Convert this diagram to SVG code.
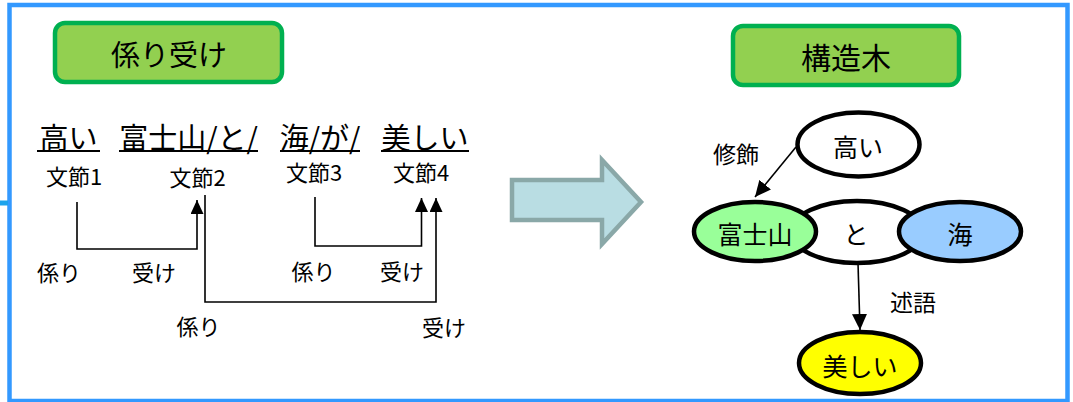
<svg xmlns="http://www.w3.org/2000/svg" width="1073" height="402" viewBox="0 0 1073 402">
<style>
text{font-family:"Noto Sans CJK JP","Noto Sans",sans-serif;fill:#000;dominant-baseline:central;text-anchor:middle}
.title{fill:#92D050;stroke:#00B050;stroke-width:4.5}
.word{font-size:29px}
.seg{font-size:22px}
.lbl{font-size:22px}
.node{stroke:#000;stroke-width:4.5}
.ntx{font-size:25px}
.conn{fill:none;stroke:#000;stroke-width:1.6}
.ul{stroke:#000;stroke-width:2}
</style>
<defs>
<marker id="ah" markerUnits="userSpaceOnUse" markerWidth="14" markerHeight="13" refX="14" refY="6.5" orient="auto">
<path d="M0,0 L14,6.5 L0,13 z" fill="#000"/>
</marker>
<marker id="ah2" markerUnits="userSpaceOnUse" markerWidth="16" markerHeight="15" refX="16" refY="7.5" orient="auto">
<path d="M0,0 L16,7.5 L0,15 z" fill="#000"/>
</marker>
</defs>
<rect width="1073" height="402" fill="#fff"/>
<rect x="9.5" y="5" width="1058" height="396" fill="none" stroke="#3399FF" stroke-width="4.5"/>
<line x1="0" y1="203" x2="8" y2="203" stroke="#1CA3EC" stroke-width="5"/>

<g id="title-left">
<rect class="title" x="55" y="23" width="227" height="59" rx="10"/>
<text x="169" y="53" style="font-size:29px">係り受け</text>
</g>
<g id="title-right">
<rect class="title" x="733" y="26" width="226" height="59" rx="10"/>
<text x="846" y="56" style="font-size:30px">構造木</text>
</g>

<g id="w1"><text class="word" x="68.5" y="136">高い</text><line class="ul" x1="37" y1="151" x2="100" y2="151"/><text class="seg" x="74" y="174.5">文節1</text></g>
<g id="w2"><text class="word" x="188.5" y="136">富士山/と/</text><line class="ul" x1="119" y1="151" x2="258" y2="151"/><text class="seg" x="197.5" y="175.5">文節2</text></g>
<g id="w3"><text class="word" x="320" y="136">海/が/</text><line class="ul" x1="280" y1="151" x2="360" y2="151"/><text class="seg" x="314" y="171">文節3</text></g>
<g id="w4"><text class="word" x="425" y="136">美しい</text><line class="ul" x1="381" y1="151" x2="469" y2="151"/><text class="seg" x="421" y="171">文節4</text></g>

<g id="block-arrow">
<path d="M512,180 L602,180 L602,160 L641,202 L602,244 L602,220 L512,220 Z" fill="#B9DDE3" stroke="#8AA8A8" stroke-width="4.5"/>
</g>

<g id="n-to"><ellipse class="node" cx="857" cy="232" rx="66" ry="31" fill="#fff"/><text class="ntx" x="856" y="233">と</text></g>
<g id="n-fuji"><ellipse class="node" cx="755" cy="231.5" rx="61" ry="29.5" fill="#99FF99"/><text class="ntx" x="755" y="233">富士山</text></g>
<g id="n-umi"><ellipse class="node" cx="960" cy="231.5" rx="61" ry="29.5" fill="#99CCFF"/><text class="ntx" x="960" y="233">海</text></g>
<g id="n-takai"><ellipse class="node" cx="858.5" cy="144.5" rx="61" ry="32" fill="#fff"/><text class="ntx" x="858" y="146">高い</text></g>
<g id="n-utsukushii"><ellipse class="node" cx="860" cy="363" rx="61" ry="31" fill="#FFFF00"/><text class="ntx" x="860" y="365">美しい</text></g>

<g id="connectors">
<path class="conn" d="M77,202 V249 H197 V200" marker-end="url(#ah)"/>
<path class="conn" d="M205,195 V302 H436 V198" marker-end="url(#ah)"/>
<path class="conn" d="M315,197 V246 H421.5 V198" marker-end="url(#ah)"/>
<line class="conn" x1="796" y1="147" x2="755" y2="197" marker-end="url(#ah2)"/>
<line class="conn" x1="858" y1="263" x2="860" y2="330" marker-end="url(#ah2)"/>
</g>

<g id="labels">
<text class="lbl" x="59" y="271">係り</text>
<text class="lbl" x="154" y="271">受け</text>
<text class="lbl" x="313.5" y="270">係り</text>
<text class="lbl" x="402" y="270">受け</text>
<text class="lbl" x="198.5" y="325">係り</text>
<text class="lbl" x="444" y="326">受け</text>
<text x="736" y="153" style="font-size:23px">修飾</text>
<text x="913" y="301" style="font-size:23px">述語</text>
</g>
</svg>
